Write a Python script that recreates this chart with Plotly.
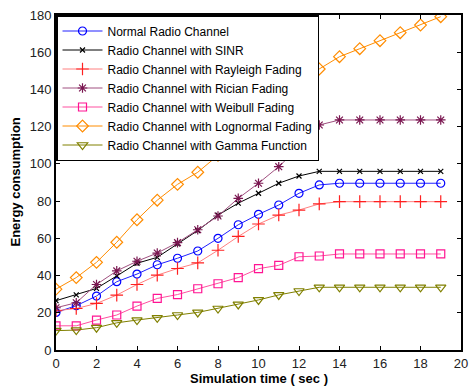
import plotly.graph_objects as go

time_sec = list(range(20))

normal = [20.2, 23.8, 29.0, 36.7, 40.8, 45.8, 49.3, 53.2, 60.0, 67.3, 72.9, 77.9, 84.2, 88.7, 89.6, 89.6, 89.6, 89.6, 89.6, 89.6]
sinr = [26.5, 29.6, 33.1, 39.8, 46.6, 49.8, 57.0, 64.2, 72.5, 78.9, 84.2, 89.6, 93.5, 96.0, 96.0, 96.0, 96.0, 96.0, 96.0, 96.0]
rayleigh = [21.1, 22.3, 25.0, 29.5, 35.2, 40.2, 43.8, 46.8, 53.6, 61.0, 67.7, 72.5, 75.2, 78.5, 79.7, 79.7, 79.7, 79.7, 79.7, 79.7]
rician = [22.7, 25.4, 35.2, 42.5, 47.7, 52.1, 57.7, 64.6, 72.0, 81.5, 89.6, 98.5, 109.0, 120.9, 123.6, 123.6, 123.6, 123.6, 123.6, 123.6]
weibull = [13.0, 13.0, 16.1, 18.8, 23.6, 27.7, 29.8, 32.9, 35.6, 38.9, 43.7, 45.5, 50.1, 50.5, 51.6, 51.6, 51.6, 51.6, 51.6, 51.6]
lognormal = [32.7, 38.9, 47.1, 57.9, 70.0, 80.5, 89.0, 95.5, 104.6, 113.5, 122.5, 132.0, 142.0, 151.0, 157.6, 161.9, 166.2, 170.5, 174.6, 179.1]
gamma = [10.4, 10.7, 12.0, 14.6, 16.1, 17.3, 18.8, 20.2, 22.3, 24.5, 26.9, 29.6, 31.7, 33.7, 33.7, 33.7, 33.7, 33.7, 33.7, 33.7]

series_names = [
    "Normal Radio Channel",
    "Radio Channel with SINR",
    "Radio Channel with Rayleigh Fading",
    "Radio Channel with Rician Fading",
    "Radio Channel with Weibull Fading",
    "Radio Channel with Lognormal Fading",
    "Radio Channel with Gamma Function",
]
series_values = [normal, sinr, rayleigh, rician, weibull, lognormal, gamma]
colors = ["#0000ff", "#000000", "#ff2020", "#7a1650", "#ff1493", "#ff8c00", "#808000"]
line_colors = ["#2020ff", "#000000", "#ff8080", "#a05080", "#ff50a0", "#ff8c00", "#808000"]
symbols = ["circle-open", "x-thin-open", "cross-thin-open", "asterisk-open",
           "square-open", "diamond-open", "triangle-down-open"]
sizes = [8, 5, 9, 8, 8, 9, 9]

FONT = "Arial, Liberation Sans, sans-serif"

fig = go.Figure()
for name, vals, c, lc, s, sz in zip(series_names, series_values, colors, line_colors, symbols, sizes):
    fig.add_trace(go.Scatter(
        x=time_sec, y=vals, name=name, mode="lines+markers",
        line=dict(color=lc, width=1),
        marker=dict(symbol=s, size=sz, color=c, line=dict(color=c, width=1.2)),
    ))

axis_common = dict(
    showline=True, linecolor="black", linewidth=2, mirror="ticks",
    ticks="inside", ticklen=4, tickcolor="black", showgrid=False, zeroline=False,
    automargin=False,
    tickfont=dict(family=FONT, size=13, color="#222"),
)
fig.update_xaxes(range=[0, 20], dtick=2, **axis_common)
fig.update_yaxes(range=[0, 180], dtick=20, **axis_common)

fig.add_annotation(text="<b>Simulation time ( sec )</b>", xref="paper", yref="paper",
                   x=0.5, y=0, yanchor="middle", yshift=-28, showarrow=False,
                   font=dict(family=FONT, size=13, color="black"))
fig.add_annotation(text="<b>Energy consumption</b>", xref="paper", yref="paper",
                   x=0, y=0.5, xanchor="center", xshift=-41, textangle=-90, showarrow=False,
                   font=dict(family=FONT, size=13, color="black"))

fig.update_layout(
    width=469, height=388,
    margin=dict(l=56, r=8, t=15, b=38),
    paper_bgcolor="white", plot_bgcolor="white",
    font=dict(family=FONT, size=12, color="black"),
    legend=dict(x=0, y=1, xanchor="left", yanchor="top", bgcolor="white",
                bordercolor="black", borderwidth=1.5, itemwidth=40,
                font=dict(family=FONT, size=12), tracegroupgap=0),
    showlegend=True,
)

fig.write_html("out.html", config={"displayModeBar": False},
               post_script="document.body.style.margin='0';document.body.style.overflow='hidden';")
